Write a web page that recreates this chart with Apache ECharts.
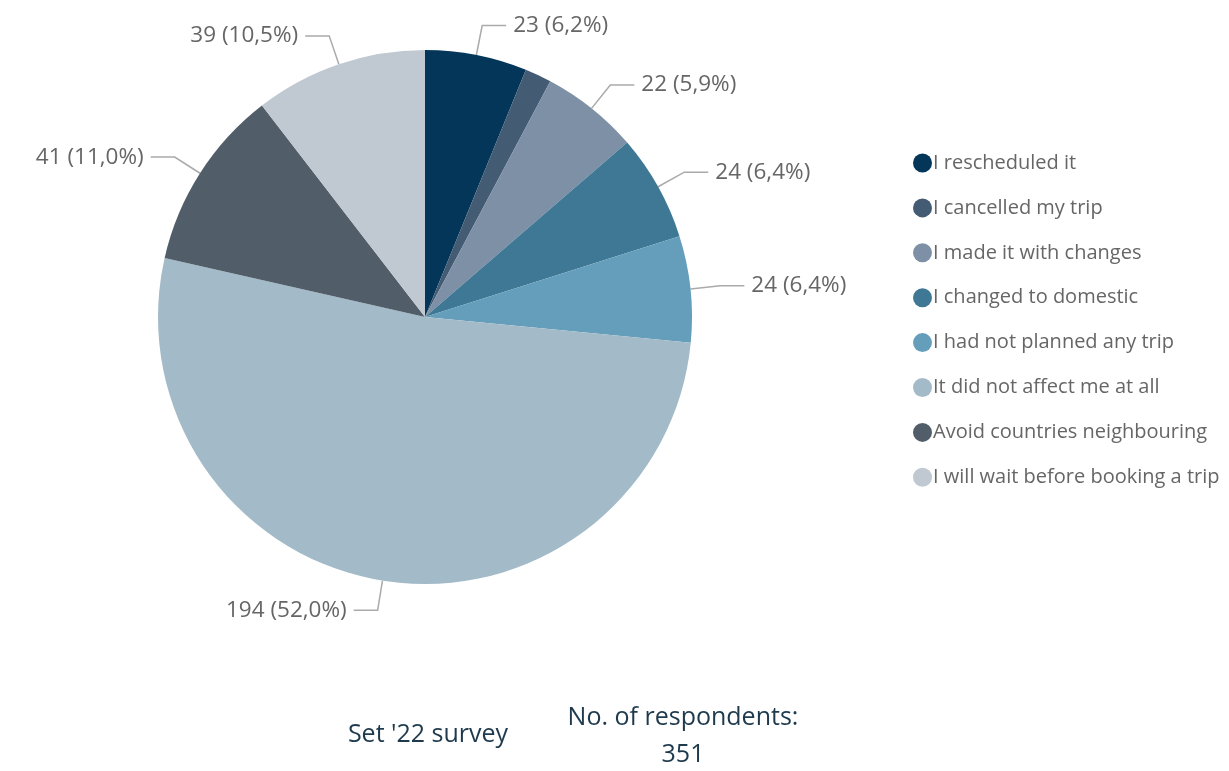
<!DOCTYPE html>
<html>
<head>
<meta charset="utf-8">
<script src="https://cdn.jsdelivr.net/npm/echarts@6/dist/echarts.min.js"></script>
<style>
  html, body { margin: 0; padding: 0; background: #ffffff; }
  #chart { width: 1229px; height: 771px; }
</style>
</head>
<body>
<div id="chart"></div>
<script>
// Survey answers, in slice order (clockwise from 12 o'clock)
const categories = [
  'I rescheduled it',
  'I cancelled my trip',
  'I made it with changes',
  'I changed to domestic',
  'I had not planned any trip',
  'It did not affect me at all',
  'Avoid countries neighbouring',
  'I will wait before booking a trip'
];
const counts = [23, 6, 22, 24, 24, 194, 41, 39];
const sliceColors = ['#04365A', '#435B73', '#7D90A6', '#3E7894', '#649EBA', '#A3BAC8', '#515E69', '#C0C8D1'];
const surveyLabel = "Set '22 survey";
const respondentsLabel = 'No. of respondents:';
const respondents = 351;

const FONT = '"Open Sans", "Noto Sans", sans-serif';
const total = counts.reduce((a, b) => a + b, 0);

const chart = echarts.init(document.getElementById('chart'), null, { renderer: 'canvas' });

chart.setOption({
  backgroundColor: '#ffffff',
  animation: false,
  color: sliceColors,
  title: [
    {
      text: surveyLabel,
      left: 423, top: 717, textAlign: 'center',
      textStyle: { fontFamily: FONT, fontSize: 25, fontWeight: 'normal', color: '#1E3A4C' }
    },
    {
      text: respondentsLabel + '\n' + respondents,
      left: 678, top: 694, textAlign: 'center',
      textStyle: { fontFamily: FONT, fontSize: 25, fontWeight: 'normal', color: '#1E3A4C', lineHeight: 37, align: 'center' }
    }
  ],
  legend: {
    orient: 'vertical',
    left: 908,
    top: 148,
    icon: 'circle',
    itemWidth: 19,
    itemHeight: 19,
    itemGap: 24.9,
    selectedMode: false,
    textStyle: { fontFamily: FONT, fontSize: 20, color: '#666666', padding: [0, 0, 0, -4] },
    data: categories
  },
  series: [{
    type: 'pie',
    center: [425, 317],
    radius: 267,
    startAngle: 90,
    clockwise: true,
    avoidLabelOverlap: false,
    minShowLabelAngle: 10,
    label: {
      show: true,
      fontFamily: FONT,
      fontSize: 22.5,
      color: '#666666',
      distanceToLabelLine: 7,
      formatter: p => p.value + ' (' + (p.value / total * 100).toFixed(1).replace('.', ',') + '%)'
    },
    labelLine: {
      show: true,
      length: 30,
      length2: 24,
      lineStyle: { color: '#AAAAAA', width: 1.5 }
    },
    itemStyle: { borderWidth: 0 },
    emphasis: { disabled: true },
    data: categories.map((name, i) => ({ name, value: counts[i] }))
  }]
});
</script>
</body>
</html>
